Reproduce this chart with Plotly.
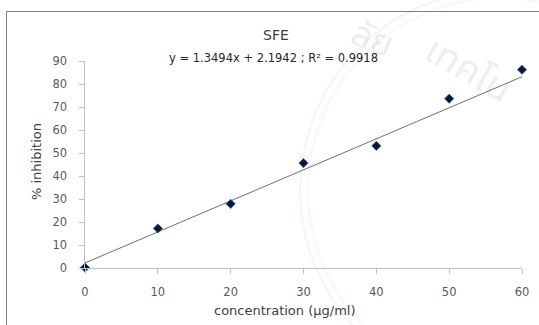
import plotly.graph_objects as go

# Measured inhibition of SFE at each concentration
concentration = [0, 10, 20, 30, 40, 50, 60]
inhibition = [0.2, 17.2, 27.9, 45.6, 53.1, 73.6, 86.2]

# Linear trendline parameters
slope = 1.3494
intercept = 2.1942
r_squared = 0.9918

x_ticks = [0, 10, 20, 30, 40, 50, 60]
y_ticks = [0, 10, 20, 30, 40, 50, 60, 70, 80, 90]

W, H = 539, 325
ML, MR, MT, MB = 85, 17, 61, 57

fit_x = [concentration[0], concentration[-1]]
fit_y = [slope * v + intercept for v in fit_x]

fig = go.Figure()

fig.add_trace(go.Scatter(
    x=fit_x, y=fit_y, mode="lines",
    line=dict(color="#6f6f6f", width=1),
    hoverinfo="skip", showlegend=False,
))

fig.add_trace(go.Scatter(
    x=concentration, y=inhibition, mode="markers",
    marker=dict(symbol="diamond", size=7, color="#0b1630",
                line=dict(color="#2f62b0", width=1)),
    cliponaxis=False, showlegend=False,
))


def px_x(p):
    return (p - ML) / (W - ML - MR)


def px_y(p):
    return 1 - (p - MT) / (H - MT - MB)


font_family = "DejaVu Sans"
thai_font = "Noto Sans Thai, Noto Sans, sans-serif"

# faint seal in the upper right corner
seal_cx, seal_cy = 500, 190
seal_shapes = []
for r, alpha in [(200, 0.07), (192, 0.05)]:
    seal_shapes.append(dict(
        type="circle", xref="paper", yref="paper", layer="below",
        x0=px_x(seal_cx - r), x1=px_x(seal_cx + r),
        y0=px_y(seal_cy + r), y1=px_y(seal_cy - r),
        line=dict(color=f"rgba(200,70,70,{alpha})", width=2),
    ))


def label(text, x, y, size, color, angle=0, family=font_family):
    return dict(text=text, xref="paper", yref="paper",
                x=px_x(x), y=px_y(y), xanchor="center", yanchor="middle",
                showarrow=False, textangle=angle,
                font=dict(size=size, color=color, family=family))


# pad the value labels away from the y axis
y_ticktext = [f"{v}\u2007\u2009" for v in y_ticks]

fig.update_layout(
    width=W, height=H,
    margin=dict(l=ML, r=MR, t=MT, b=MB, autoexpand=False),
    paper_bgcolor="white", plot_bgcolor="rgba(0,0,0,0)",
    font=dict(family=font_family, color="#595959", size=11),
    xaxis=dict(
        range=[0, 60], tickvals=x_ticks, showgrid=False, zeroline=False,
        showline=True, linecolor="#bfbfbf", linewidth=1,
        ticks="outside", ticklen=5, tickcolor="#bfbfbf",
        ticklabelstandoff=8, automargin=False,
        tickfont=dict(size=11.5, color="#595959"),
    ),
    yaxis=dict(
        range=[0, 90], tickvals=y_ticks, ticktext=y_ticktext,
        showgrid=False, zeroline=False,
        showline=True, linecolor="#bfbfbf", linewidth=1,
        ticks="outside", ticklen=5, tickcolor="#bfbfbf",
        automargin=False,
        tickfont=dict(size=11.5, color="#595959"),
    ),
    shapes=seal_shapes + [
        dict(type="line", xref="paper", yref="paper",
             x0=px_x(6.5), x1=px_x(W + 5), y0=px_y(11.5), y1=px_y(11.5),
             line=dict(color="#7f7f7f", width=1)),
        dict(type="line", xref="paper", yref="paper",
             x0=px_x(6.5), x1=px_x(6.5), y0=px_y(11.5), y1=px_y(H + 5),
             line=dict(color="#7f7f7f", width=1)),
    ],
    annotations=[
        label("ลัย", 372, 40, 36, "rgba(120,120,120,0.15)", 22, thai_font),
        label("เทคโน", 468, 70, 38, "rgba(120,120,120,0.15)", 30, thai_font),
        label("SFE", 276, 35, 14, "#404040"),
        label(f"y = {slope}x + {intercept} ; R² = {r_squared}", 273, 58, 11.5, "#262626"),
        label("% inhibition", 36, 162, 13, "#404040", -90),
        label("concentration (µg/ml)", 285, 310, 13, "#404040"),
    ],
)

fig.write_html("out.html")
